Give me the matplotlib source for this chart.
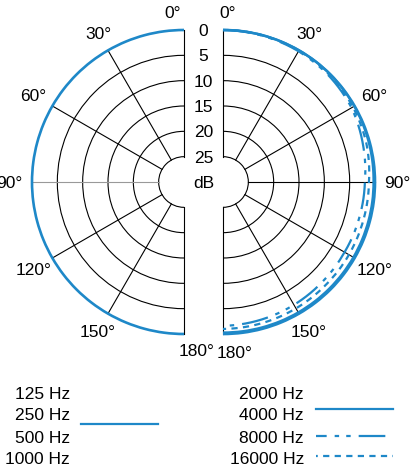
import numpy as np
import matplotlib
matplotlib.use('Agg')
import matplotlib.pyplot as plt
from matplotlib.lines import Line2D
from matplotlib import transforms

plt.rcParams['font.family'] = ['Liberation Sans', 'DejaVu Sans']

# polar response data (angle in degrees, level in dB relative to 0 deg)
angles = [0, 15, 30, 45, 60, 75, 90, 105, 120, 135, 150, 165, 180]
low_bands = ['125 Hz', '250 Hz', '500 Hz', '1000 Hz']
db_low = [0, 0, 0, 0, 0, 0, 0, 0, 0, 0, 0, 0, 0]
high_bands = ['2000 Hz', '4000 Hz', '8000 Hz', '16000 Hz']
db_2000 = [0, 0, 0, 0, 0, 0, 0, 0, 0, 0, 0, 0, 0]
db_4000 = [0, 0, 0, 0, -0.1, -0.2, -0.3, -0.3, -0.3, -0.3, -0.3, -0.3, -0.3]
db_8000 = [0, -0.1, -0.2, -0.4, -0.7, -1.4, -2.0, -2.2, -2.3, -2.2, -2.0, -1.8, -1.6]
db_16000 = [0, 0, -0.1, -0.2, -0.4, -0.7, -1.2, -1.3, -1.3, -1.3, -1.2, -1.1, -1.0]

ring_levels = [0, 5, 10, 15, 20, 25]
spoke_angles = [30, 60, 90, 120, 150]
angle_labels = [0, 30, 60, 90, 120, 150, 180]

BLUE = '#1e88c8'
W, H = 414, 471
R = 152        # px radius of the 0 dB ring
CY = 182       # px from top to the centre

fig = plt.figure(figsize=(W / 100, H / 100), dpi=100)


def px_to_db(px):
    return px / R * 30 - 30


def curve(ax, theta, r, **kw):
    # let the polar transform bend the segments into arcs
    ln, = ax.plot(theta, r, clip_on=False, solid_capstyle='butt', **kw)
    ln.recache()
    ln._path._interpolation_steps = 40
    return ln


def half_axes(cx, direction, spoke90_color):
    ax = fig.add_axes([(cx - R) / W, 1 - (CY + R) / H, 2 * R / W, 2 * R / H],
                      projection='polar')
    ax.set_theta_zero_location('N')
    ax.set_theta_direction(direction)
    ax.set_ylim(-30, 0)
    ax.axis('off')

    for lev in ring_levels[1:]:
        curve(ax, [0, np.pi / 2, np.pi], [-lev] * 3, color='black', lw=0.8)
    for a in [0, 180] + spoke_angles:
        c = spoke90_color if a == 90 else 'black'
        ax.plot([np.radians(a)] * 2, [-25, 0], color=c, lw=0.8, clip_on=False)
    return ax


ax_l = half_axes(184, 1, '#999999')
ax_r = half_axes(223, -1, 'black')

ang = np.radians(angles)
dashdot = (0, (12, 3.6, 2, 3.2, 2, 3.6))
dashed = (0, (2.8, 2.4))

curve(ax_l, ang, db_low, color=BLUE, lw=1.9, zorder=5)
curve(ax_r, ang, db_2000, color=BLUE, lw=1.9, zorder=5)
curve(ax_r, ang, db_4000, color=BLUE, lw=1.6, zorder=5)
curve(ax_r, ang, db_8000, color=BLUE, lw=1.6, ls=dashdot, zorder=5)
curve(ax_r, ang, db_16000, color=BLUE, lw=1.6, ls=dashed, zorder=5)

# angle labels: (angle, radius px) per half
left_pos = {0: (3.7, 170), 30: (30, 172), 60: (60, 174), 90: (90, 175),
            120: (120, 174), 150: (150, 172), 180: (184.4, 168.5)}
right_pos = {0: (1.7, 170), 30: (30, 172), 60: (60, 174), 90: (90, 174),
             120: (120, 175), 150: (150, 172), 180: (176, 170.4)}
for ax, pos in [(ax_l, left_pos), (ax_r, right_pos)]:
    for lab in angle_labels:
        a, r = pos[lab]
        ax.text(np.radians(a), px_to_db(r), f'{lab}°', fontsize=12.5,
                ha='center', va='center_baseline', clip_on=False)

# dB scale between the halves
shift = transforms.offset_copy(ax_r.transData, fig=fig, x=-19.5, y=0, units='dots')
for lev in ring_levels:
    ax_r.text(0, -lev, str(lev), transform=shift, fontsize=12.5,
              ha='center', va='center_baseline')
ax_r.text(0, -30, 'dB', transform=shift, fontsize=12.5,
          ha='center', va='center_baseline')

# legend
rows = [393, 414, 437, 458]
for name, y in zip(low_bands, rows):
    fig.text(70 / W, 1 - y / H, name, fontsize=12.5, ha='right', va='center_baseline')
for name, y in zip(high_bands, rows):
    fig.text(304 / W, 1 - y / H, name, fontsize=12.5, ha='right', va='center_baseline')

samples = [((81, 158), 424, '-'), ((316, 393), 409, '-'),
           ((316, 393), 436, (7.2, (12, 3.6, 2, 3.2, 2, 3.6))),
           ((316, 393), 456, (2.0, (2.8, 2.4)))]
for (x0, x1), y, ls in samples:
    fig.add_artist(Line2D([x0 / W, x1 / W], [1 - y / H] * 2, transform=fig.transFigure,
                          color=BLUE, lw=1.6, ls=ls))

fig.savefig('out.png', dpi=100)
